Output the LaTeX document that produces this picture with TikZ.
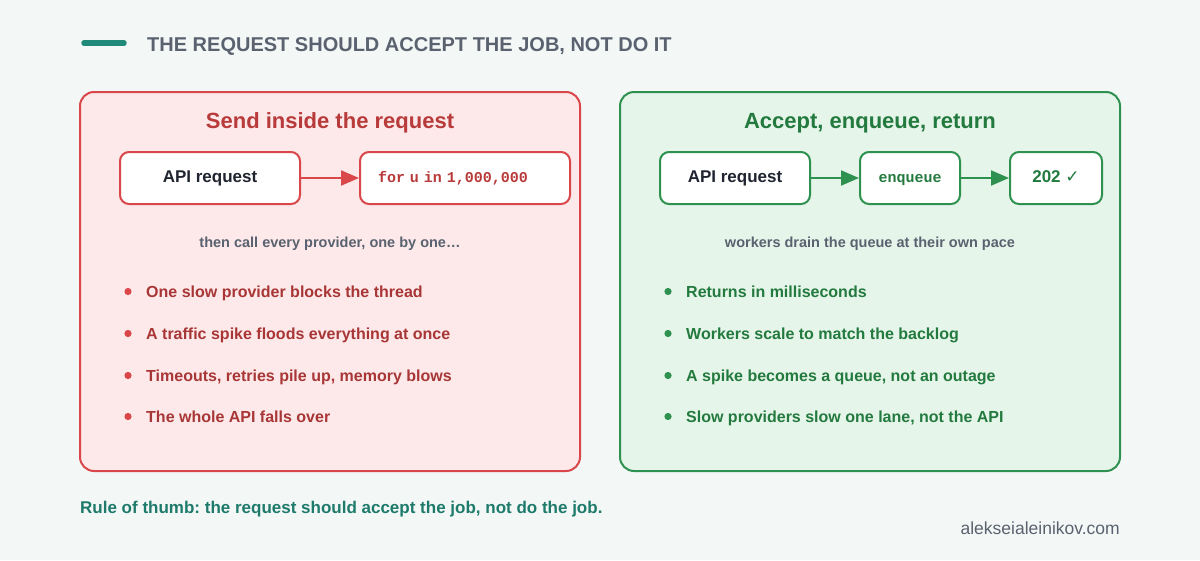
\documentclass[tikz,border=0pt]{standalone}
\usepackage{fontspec}
\setmainfont{Liberation Sans}
\setmonofont{Liberation Mono}
\newfontfamily\dejavu{DejaVu Sans}
\usetikzlibrary{arrows.meta}
\frenchspacing
\definecolor{bgc}{HTML}{F3F8F7}
\definecolor{teal}{HTML}{1F8A7A}
\definecolor{slate}{HTML}{5A6270}
\definecolor{redfill}{HTML}{FDE9E9}
\definecolor{redline}{HTML}{D9474A}
\definecolor{redtext}{HTML}{B83A3A}
\definecolor{redbul}{HTML}{A83636}
\definecolor{grnfill}{HTML}{E6F5EA}
\definecolor{grnline}{HTML}{2E9150}
\definecolor{grntext}{HTML}{237A3E}
\definecolor{dark}{HTML}{1F2430}
\definecolor{footc}{HTML}{1E7A6A}
\tikzset{
  panel/.style={draw, line width=2pt, rounded corners=14pt, minimum width=500pt, minimum height=379pt, inner sep=0pt},
  flowbox/.style={draw, fill=white, line width=2pt, rounded corners=9pt, minimum height=52pt, inner sep=0pt, text height=11pt, text depth=3pt},
  ptitle/.style={font=\fontsize{22}{26}\selectfont\bfseries},
  apitext/.style={font=\fontsize{17}{20}\selectfont\bfseries, text=dark},
  monotext/.style={font=\fontsize{15}{18}\selectfont\ttfamily\bfseries},
  subtext/.style={font=\fontsize{14.5}{17}\selectfont\bfseries, text=slate},
  bultext/.style={anchor=base west, inner sep=0pt, font=\fontsize{16}{19}\selectfont\bfseries},
  conn/.style={line width=2pt, -{Triangle[length=18pt, width=15pt]}},
}
\begin{document}
\begin{tikzpicture}[x=1pt, y=-1pt]
\useasboundingbox (0,0) rectangle (1200,560);
\fill[bgc] (0,0) rectangle (1200,560);
% header
\draw[teal, line width=5.5pt, line cap=round] (84,43) -- (124,43);
\node[anchor=base west, inner sep=0pt, font=\fontsize{20}{23}\selectfont\bfseries, text=slate] (title) at (147,51) {THE REQUEST SHOULD ACCEPT THE JOB, NOT DO IT};
% left panel
\node[panel, draw=redline, fill=redfill] (lp) at (330,281.5) {};
\node[ptitle, text=redtext] (lt) at (330,123) {Send inside the request};
\node[flowbox, draw=redline, minimum width=180pt, apitext] (la) at (210,178) {API request};
\node[flowbox, draw=redline, minimum width=210pt, monotext, text=redtext, text width=174pt, align=left] (lf) at (465,178) {for u in 1,000,000};
\draw[conn, redline] (la.east) -- (lf.west);
\node[subtext] (ls) at (330,244) {then call every provider, one by one…};
\foreach \yy/\tt [count=\i] in {297/{One slow provider blocks the thread}, 339/{A traffic spike floods everything at once}, 381/{Timeouts, retries pile up, memory blows}, 422/{The whole API falls over}}{
  \fill[redline] (128,\yy-5.5) circle (3.6pt);
  \node[bultext, text=redbul] (lb\i) at (146,\yy) {\tt};
}
% right panel
\node[panel, draw=grnline, fill=grnfill] (rp) at (870,281.5) {};
\node[ptitle, text=grntext] (rt) at (870,123) {Accept, enqueue, return};
\node[flowbox, draw=grnline, minimum width=150pt, apitext] (ra) at (735,178) {API request};
\node[flowbox, draw=grnline, minimum width=100pt, monotext, text=grntext] (rq) at (910,178) {enqueue};
\node[flowbox, draw=grnline, minimum width=92pt, font=\fontsize{17}{20}\selectfont\bfseries, text=grntext] (rr) at (1056,178) {202 {\dejavu\bfseries ✓}};
\draw[conn, grnline] (ra.east) -- (rq.west);
\draw[conn, grnline] (rq.east) -- (rr.west);
\node[subtext] (rs) at (870,244) {workers drain the queue at their own pace};
\foreach \yy/\tt [count=\i] in {297/{Returns in milliseconds}, 339/{Workers scale to match the backlog}, 381/{A spike becomes a queue, not an outage}, 422/{Slow providers slow one lane, not the API}}{
  \fill[grnline] (668,\yy-5.5) circle (3.6pt);
  \node[bultext, text=grntext] (rb\i) at (686,\yy) {\tt};
}
% footer
\node[anchor=base west, inner sep=0pt, font=\fontsize{17}{20}\selectfont\bfseries, text=footc] (rule) at (80,513) {Rule of thumb: the request should accept the job, not do the job.};
\node[anchor=base east, inner sep=0pt, font=\fontsize{17.5}{20}\selectfont, text=slate] (site) at (1120,534) {alekseialeinikov.com};
\end{tikzpicture}
\end{document}
